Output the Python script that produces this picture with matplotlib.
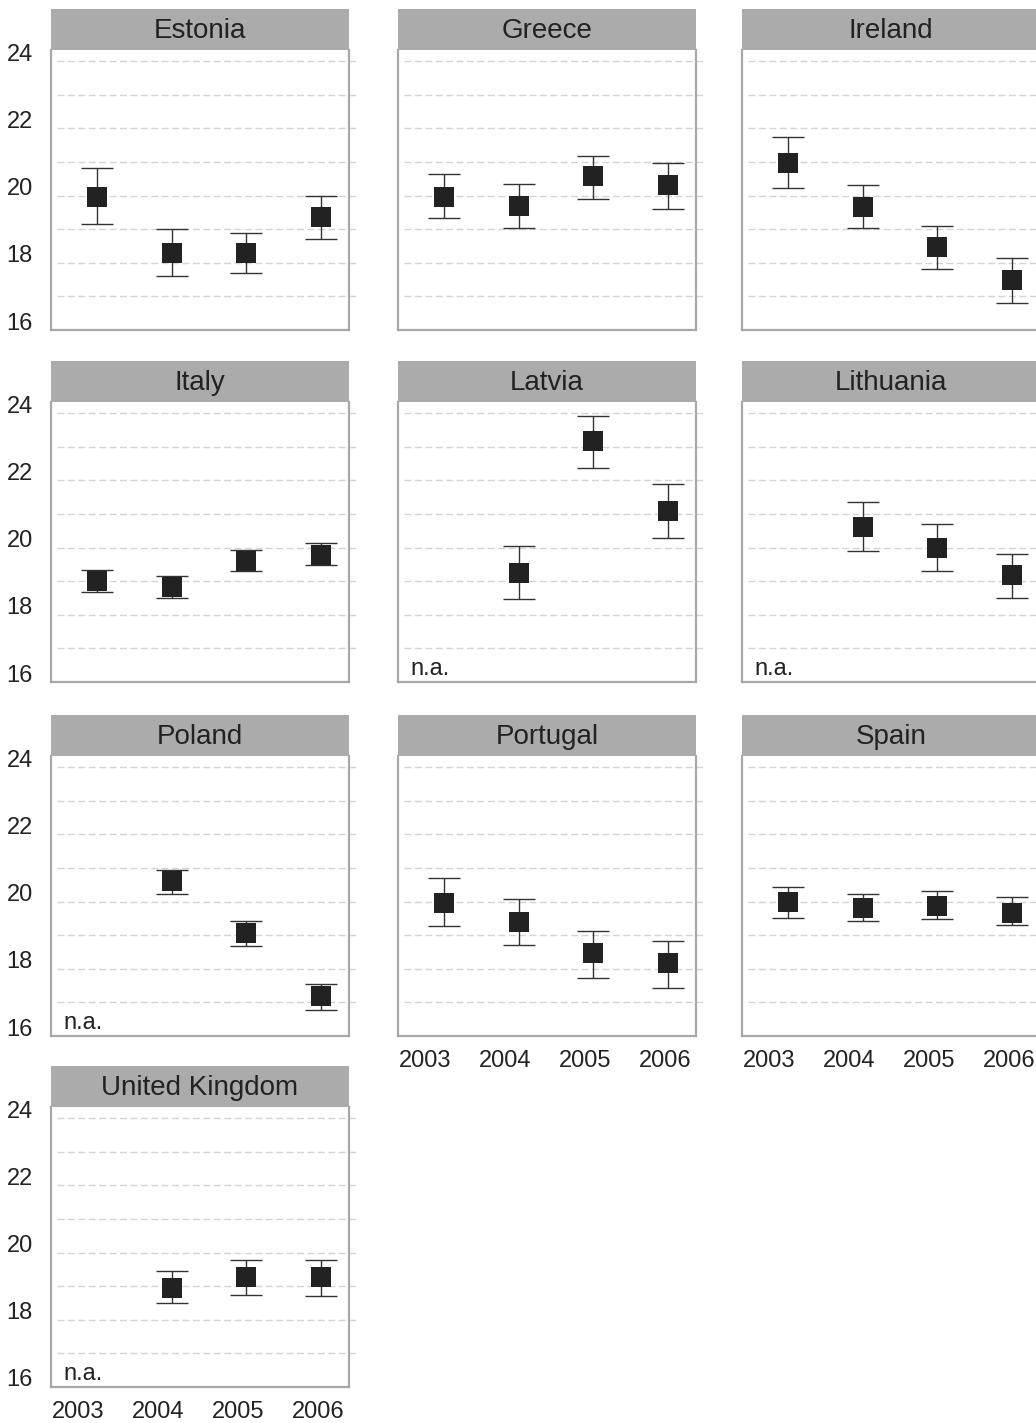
import matplotlib
matplotlib.use("Agg")
import matplotlib.pyplot as plt
import matplotlib.transforms as mtransforms
import numpy as np

plt.rcParams['font.family'] = ['Liberation Sans Narrow', 'DejaVu Sans Condensed',
                               'Liberation Sans', 'DejaVu Sans']

years = ['2003', '2004', '2005', '2006']
countries = ['Estonia', 'Greece', 'Ireland',
             'Italy', 'Latvia', 'Lithuania',
             'Poland', 'Portugal', 'Spain',
             'United Kingdom']

nan = np.nan
# point estimate and lower / upper bound of the interval, per country and year
mean = [
    [19.97, 18.28, 18.28, 19.37],
    [19.97, 19.69, 20.59, 20.30],
    [20.98, 19.67, 18.48, 17.49],
    [19.00, 18.83, 19.59, 19.79],
    [nan, 19.25, 23.18, 21.10],
    [nan, 20.62, 19.98, 19.19],
    [nan, 20.60, 19.07, 17.19],
    [19.96, 19.39, 18.46, 18.18],
    [19.99, 19.81, 19.87, 19.67],
    [nan, 18.96, 19.28, 19.28],
]
low = [
    [19.15, 17.60, 17.69, 18.70],
    [19.33, 19.03, 19.89, 19.61],
    [20.21, 19.03, 17.82, 16.81],
    [18.67, 18.50, 19.29, 19.48],
    [nan, 18.46, 22.36, 20.29],
    [nan, 19.90, 19.31, 18.50],
    [nan, 20.23, 18.68, 16.78],
    [19.26, 18.71, 17.74, 17.42],
    [19.50, 19.41, 19.47, 19.30],
    [nan, 18.49, 18.73, 18.71],
]
high = [
    [20.81, 19.00, 18.90, 20.00],
    [20.64, 20.34, 21.19, 20.97],
    [21.73, 20.30, 19.10, 18.13],
    [19.32, 19.16, 19.94, 20.14],
    [nan, 20.04, 23.92, 21.89],
    [nan, 21.36, 20.70, 19.81],
    [nan, 20.94, 19.41, 17.54],
    [20.70, 20.07, 19.11, 18.84],
    [20.44, 20.21, 20.32, 20.15],
    [nan, 19.46, 19.77, 19.77],
]

W, H = 1036, 1423
fig = plt.figure(figsize=(W / 100, H / 100), dpi=100)
fig.patch.set_facecolor('white')

col_left = [51, 398, 742]
bar_top = [9, 361, 715, 1066]
pw, bar_h, ph = 298, 41, 280

frame_col = '#a8a8a8'
bar_col = '#ababab'
text_col = '#222222'
x = np.arange(len(years))

for i, name in enumerate(countries):
    r, c = divmod(i, 3)
    left = col_left[c]
    top = bar_top[r]
    ax = fig.add_axes([left / W, 1 - (top + bar_h + ph) / H, pw / W, ph / H])
    tax = fig.add_axes([left / W, 1 - (top + bar_h) / H, pw / W, bar_h / H])

    # gray header strip with the country name
    tax.set_facecolor(bar_col)
    tax.set_xticks([])
    tax.set_yticks([])
    for s in tax.spines.values():
        s.set_visible(False)
    tax.text(0.5, 0.47, name, ha='center', va='center', fontsize=20,
             color=text_col, transform=tax.transAxes)

    ax.set_xlim(-0.616, 3.374)
    ax.set_ylim(16, 24.33)
    ax.spines['top'].set_visible(False)
    for s in ['left', 'right', 'bottom']:
        ax.spines[s].set_color(frame_col)
        ax.spines[s].set_linewidth(1.6)

    for g in range(17, 25):
        ax.axhline(g, xmin=0.02, xmax=1.022, color='#d4d4d4', lw=1.0,
                   dashes=(5, 2.5), clip_on=False, zorder=0)

    m = np.array(mean[i])
    lo = np.array(low[i])
    hi = np.array(high[i])
    ok = ~np.isnan(m)
    ax.errorbar(x[ok], m[ok], yerr=[m[ok] - lo[ok], hi[ok] - m[ok]],
                fmt='none', ecolor='#333333', elinewidth=1.0,
                capsize=11.5, capthick=1.0, zorder=2)
    ax.plot(x[ok], m[ok], 's', color='#222222', markersize=14.5,
            markeredgewidth=0, zorder=3)

    if np.isnan(m[0]):
        ax.text(12 / pw, 13 / ph, 'n.a.', transform=ax.transAxes,
                ha='left', va='center', fontsize=17, color=text_col)

    ax.tick_params(length=0)
    if c == 0:
        ax.set_yticks([16, 18, 20, 22, 24])
        ax.tick_params(axis='y', pad=13, labelsize=17, labelcolor=text_col)
        shift = mtransforms.ScaledTranslation(0, 9 / 100, fig.dpi_scale_trans)
        for lab in ax.get_yticklabels():
            lab.set_transform(lab.get_transform() + shift)
    else:
        ax.set_yticks([])

    if i >= 7:
        ax.set_xticks(-0.25 + 1.07 * x)
        ax.set_xticklabels(years)
        ax.tick_params(axis='x', pad=10, labelsize=17, labelcolor=text_col)
    else:
        ax.set_xticks([])

fig.savefig('out.png', dpi=100, facecolor='white')
